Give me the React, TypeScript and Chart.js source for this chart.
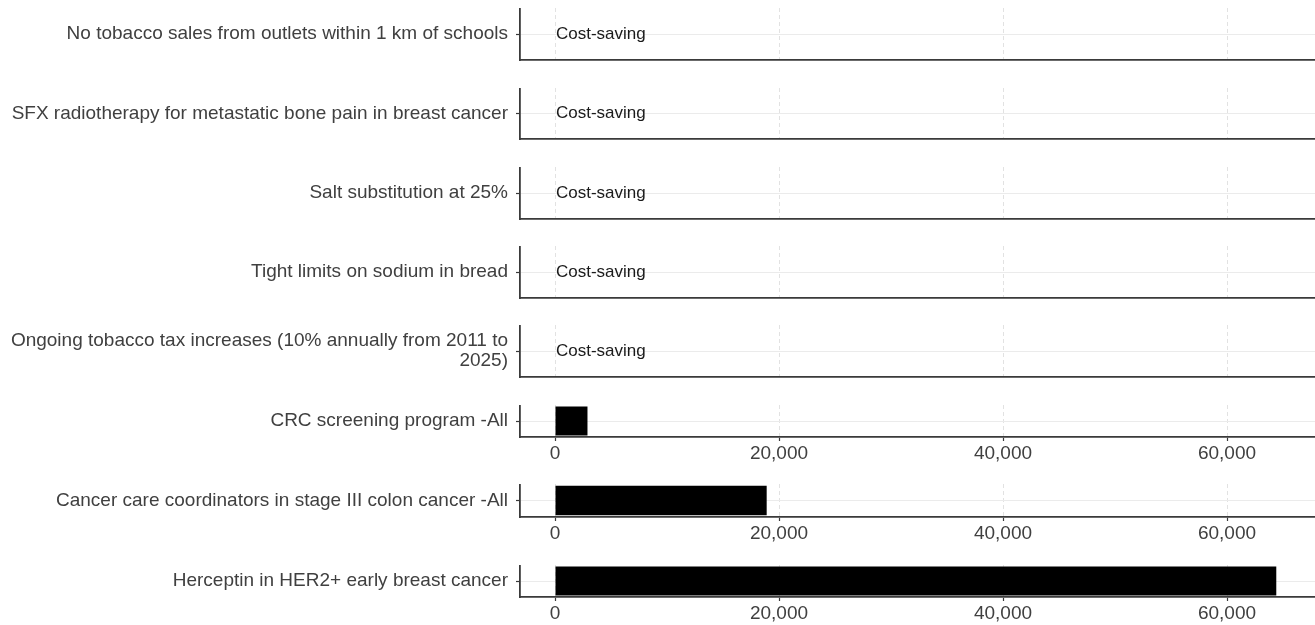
import React, { useEffect, useRef } from "react";
import { Chart, registerables } from "chart.js";

Chart.register(...registerables);

// ---- data ----
const categories: (string | string[])[] = [
  "No tobacco sales from outlets within 1 km of schools",
  "SFX radiotherapy for metastatic bone pain in breast cancer",
  "Salt substitution at 25%",
  "Tight limits on sodium in bread",
  ["Ongoing tobacco tax increases (10% annually from 2011 to", "2025)"],
  "CRC screening program -All",
  "Cancer care coordinators in stage III colon cancer -All",
  "Herceptin in HER2+ early breast cancer",
];
const costValues: (number | null)[] = [null, null, null, null, null, 2900, 18900, 64400];
const costSavingFlags: boolean[] = [true, true, true, true, true, false, false, false];
const costSavingLabel = "Cost-saving";
const xTickValues: number[] = [0, 20000, 40000, 60000];
const showXTickLabels: boolean[] = [false, false, false, false, false, true, true, true];

// ---- layout ----
const PANEL_TOPS = [8, 88, 167, 246, 325, 405, 484, 565];
const PANEL_HEIGHTS = [52, 51, 52, 52, 52, 32, 33, 32];
const WIDTH = 1315;
const AXIS_LEFT = 520;
const X_MIN = -3125;
const X_MAX = 67857;
const FONT_FAMILY = "'Liberation Sans', Arial, Helvetica, sans-serif";
const TEXT_COLOR = "#404040";
const AXIS_COLOR = "#3A3A3A";

function Panel({ index }: { index: number }) {
  const ref = useRef<HTMLCanvasElement>(null);
  const labeled = showXTickLabels[index];
  const extra = labeled ? 30 : 2;
  const h = PANEL_HEIGHTS[index] + extra;

  useEffect(() => {
    const costSavingPlugin = {
      id: "costSaving" + index,
      afterDatasetsDraw(chart: any) {
        if (!costSavingFlags[index]) return;
        const { ctx, scales } = chart;
        ctx.save();
        ctx.font = `17px ${FONT_FAMILY}`;
        ctx.fillStyle = "#1A1A1A";
        ctx.textAlign = "left";
        ctx.textBaseline = "middle";
        ctx.fillText(costSavingLabel, scales.x.getPixelForValue(0) + 1, scales.y.getPixelForValue(0));
        ctx.restore();
      },
    };
    const chart = new Chart(ref.current!, {
      type: "bar",
      data: {
        labels: [categories[index]],
        datasets: [
          {
            data: [costValues[index]],
            backgroundColor: "#000000",
            borderWidth: 0,
            barPercentage: 0.9,
            categoryPercentage: 1,
          },
        ],
      },
      options: {
        indexAxis: "y",
        responsive: false,
        animation: false,
        layout: { padding: 0 },
        plugins: { legend: { display: false }, tooltip: { enabled: false } },
        scales: {
          x: {
            type: "linear",
            min: X_MIN,
            max: X_MAX,
            afterBuildTicks: (s: any) => {
              s.ticks = xTickValues.map((v) => ({ value: v }));
            },
            afterFit: (s: any) => {
              s.height = extra;
              s.paddingLeft = 0;
              s.paddingRight = 0;
            },
            ticks: {
              display: labeled,
              font: { family: FONT_FAMILY, size: 19 },
              color: TEXT_COLOR,
              padding: 1,
              maxRotation: 0,
              autoSkip: false,
              callback: (v: any) => Number(v).toLocaleString("en-US"),
            },
            grid: {
              color: "#E2E2E2",
              lineWidth: 1,
              drawTicks: labeled,
              tickLength: 4,
              tickColor: AXIS_COLOR,
              tickWidth: 1.2,
            },
            border: { display: true, color: AXIS_COLOR, width: 1.8, dash: [4, 3] },
          },
          y: {
            afterFit: (s: any) => {
              s.width = AXIS_LEFT;
              s.paddingTop = 0;
              s.paddingBottom = 0;
            },
            ticks: {
              font: { family: FONT_FAMILY, size: 19, lineHeight: 1.05 },
              color: TEXT_COLOR,
              padding: 8,
            },
            grid: {
              offset: false,
              color: "#EBEBEB",
              lineWidth: 1,
              tickLength: 4,
              tickColor: AXIS_COLOR,
              tickWidth: 1.2,
            },
            border: { display: true, color: AXIS_COLOR, width: 1.8 },
          },
        },
      },
      plugins: [costSavingPlugin],
    } as any);
    return () => chart.destroy();
  }, [index]);

  return (
    <canvas
      ref={ref}
      width={WIDTH}
      height={h}
      style={{ position: "absolute", left: 0, top: PANEL_TOPS[index], width: WIDTH, height: h }}
    />
  );
}

export default function App() {
  return (
    <div style={{ position: "absolute", left: 0, top: 0, width: WIDTH, height: 625, background: "#fff" }}>
      {categories.map((_, i) => (
        <Panel key={i} index={i} />
      ))}
    </div>
  );
}
